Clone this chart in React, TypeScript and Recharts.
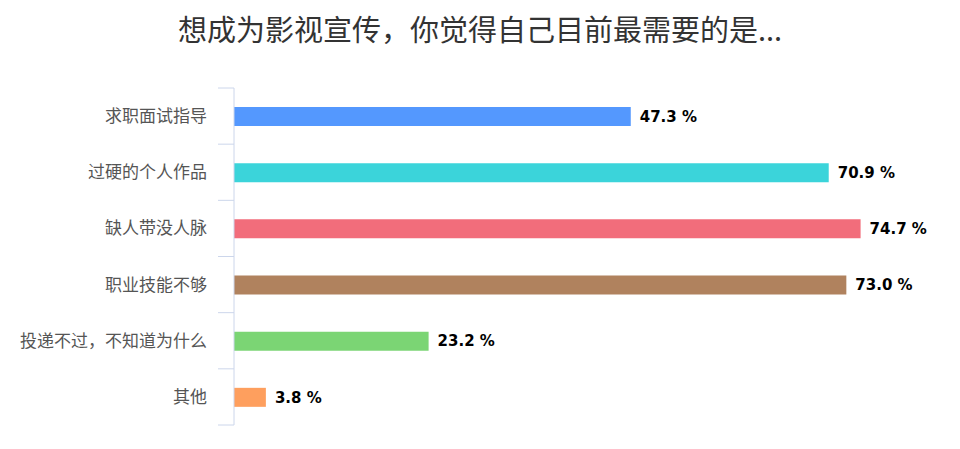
import { Bar, BarChart, Cell, LabelList, XAxis, YAxis } from 'recharts'

// survey answers
const categories = ['求职面试指导', '过硬的个人作品', '缺人带没人脉', '职业技能不够', '投递不过，不知道为什么', '其他']
const shares = [47.3, 70.9, 74.7, 73.0, 23.2, 3.8]

const BAR_COLORS = ['#5498fe', '#3bd4da', '#f26d7b', '#b0825e', '#7bd574', '#fe9f5e']
const AXIS_COLOR = '#ccd6eb'
const TICK_MARGIN = 27
const TICK_LEN = 16
const CJK = '"Noto Sans CJK SC", sans-serif'

const rows = categories.map((name, i) => ({ name, share: shares[i] }))

/* Highcharts-style category axis: tick marks sit on the band edges,
   not the band centres, so draw them from the tick's half-band offset. */
function CategoryTick(props: any) {
  const { x, y, payload, index, visibleTicksCount } = props
  const half = payload?.offset ?? 0
  const axisX = x + TICK_MARGIN
  const isLast = index === visibleTicksCount - 1
  return (
    <g>
      <line x1={axisX - TICK_LEN} x2={axisX} y1={y - half} y2={y - half} stroke={AXIS_COLOR} />
      {isLast && <line x1={axisX - TICK_LEN} x2={axisX} y1={y + half} y2={y + half} stroke={AXIS_COLOR} />}
      <text x={x} y={y} dy="0.355em" textAnchor="end" fill="#555" fontSize={17} fontFamily={CJK}>
        {payload.value}
      </text>
    </g>
  )
}

export default function App() {
  return (
    <div style={{ position: 'absolute', left: 0, top: 0, width: 960, height: 449, background: '#fff' }}>
      <div style={{
        position: 'absolute', left: 0, top: 11, width: 960, textAlign: 'center',
        fontFamily: CJK, fontSize: 29, lineHeight: '34px', color: '#333',
      }}>
        想成为影视宣传，你觉得自己目前最需要的是...
      </div>
      <BarChart width={960} height={449} data={rows} layout="vertical"
                margin={{ top: 88, right: 13, bottom: 24, left: 0 }}>
        <XAxis type="number" hide domain={[0, 85]} />
        <YAxis type="category" dataKey="name" width={234} axisLine={{ stroke: AXIS_COLOR }} tickLine={false}
               tickSize={0} tickMargin={TICK_MARGIN} interval={0} tick={<CategoryTick />} />
        <Bar dataKey="share" barSize={19} isAnimationActive={false}>
          {rows.map((row, i) => <Cell key={row.name} fill={BAR_COLORS[i]} />)}
          <LabelList dataKey="share" position="right" offset={9}
                     formatter={(v: number) => `${v.toFixed(1)} %`}
                     style={{ fill: '#000', fontSize: 15, fontWeight: 'bold', fontFamily: '"DejaVu Sans", sans-serif' }} />
        </Bar>
      </BarChart>
    </div>
  )
}
